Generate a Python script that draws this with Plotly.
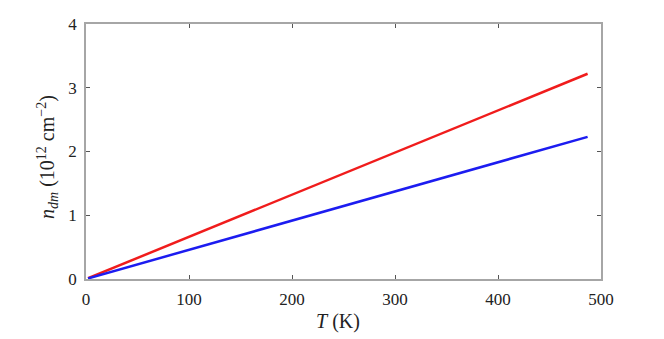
import plotly.graph_objects as go

# temperature (K) and sheet density (10^12 cm^-2)
T = [2, 100, 200, 300, 400, 487]
n_red = [0.013, 0.66, 1.32, 1.98, 2.64, 3.22]
n_blue = [0.009, 0.46, 0.92, 1.37, 1.83, 2.23]

x_ticks = [0, 100, 200, 300, 400, 500]
y_ticks = [0, 1, 2, 3, 4]

AXIS = "#a6a6a6"
FONT = "Liberation Serif, Times New Roman, serif"
TXT = "#222222"

fig = go.Figure()
fig.add_trace(go.Scatter(x=T, y=n_red, mode="lines",
                         line=dict(color="#f01c1c", width=2.5)))
fig.add_trace(go.Scatter(x=T, y=n_blue, mode="lines",
                         line=dict(color="#1c1cf0", width=2.5)))

axis_common = dict(
    showgrid=False, zeroline=False, showline=True, linecolor=AXIS, linewidth=1.5,
    mirror="ticks", ticks="inside", ticklen=4, tickcolor="#555555", tickwidth=1,
    tickfont=dict(family=FONT, size=17, color=TXT), automargin=False,
)

fig.update_xaxes(range=[0, 500], tickvals=x_ticks, ticklabelstandoff=4, **axis_common)
fig.update_yaxes(range=[0, 4], tickvals=y_ticks, ticklabelstandoff=4, **axis_common)

# axis titles as annotations for exact placement
fig.add_annotation(text="<i>T</i> (K)", xref="paper", yref="paper", x=0.49, y=-0.165,
                   xanchor="center", yanchor="middle", showarrow=False,
                   font=dict(family=FONT, size=20, color=TXT))
fig.add_annotation(text="<i>n</i><sub><i>dm</i></sub> (10<sup>12</sup> cm<sup>−2</sup>)",
                   xref="paper", yref="paper", x=-0.075, y=0.48, textangle=-90,
                   xanchor="center", yanchor="middle", showarrow=False,
                   font=dict(family=FONT, size=20, color=TXT))

fig.update_layout(
    width=664, height=339,
    margin=dict(l=86, r=63, t=24, b=60),
    paper_bgcolor="white", plot_bgcolor="white",
    showlegend=False,
)

# drop the default body margin so the figure sits at the window's corner
fig.write_html("out.html", config={"displayModeBar": False},
               post_script="document.body.style.margin='0';")
